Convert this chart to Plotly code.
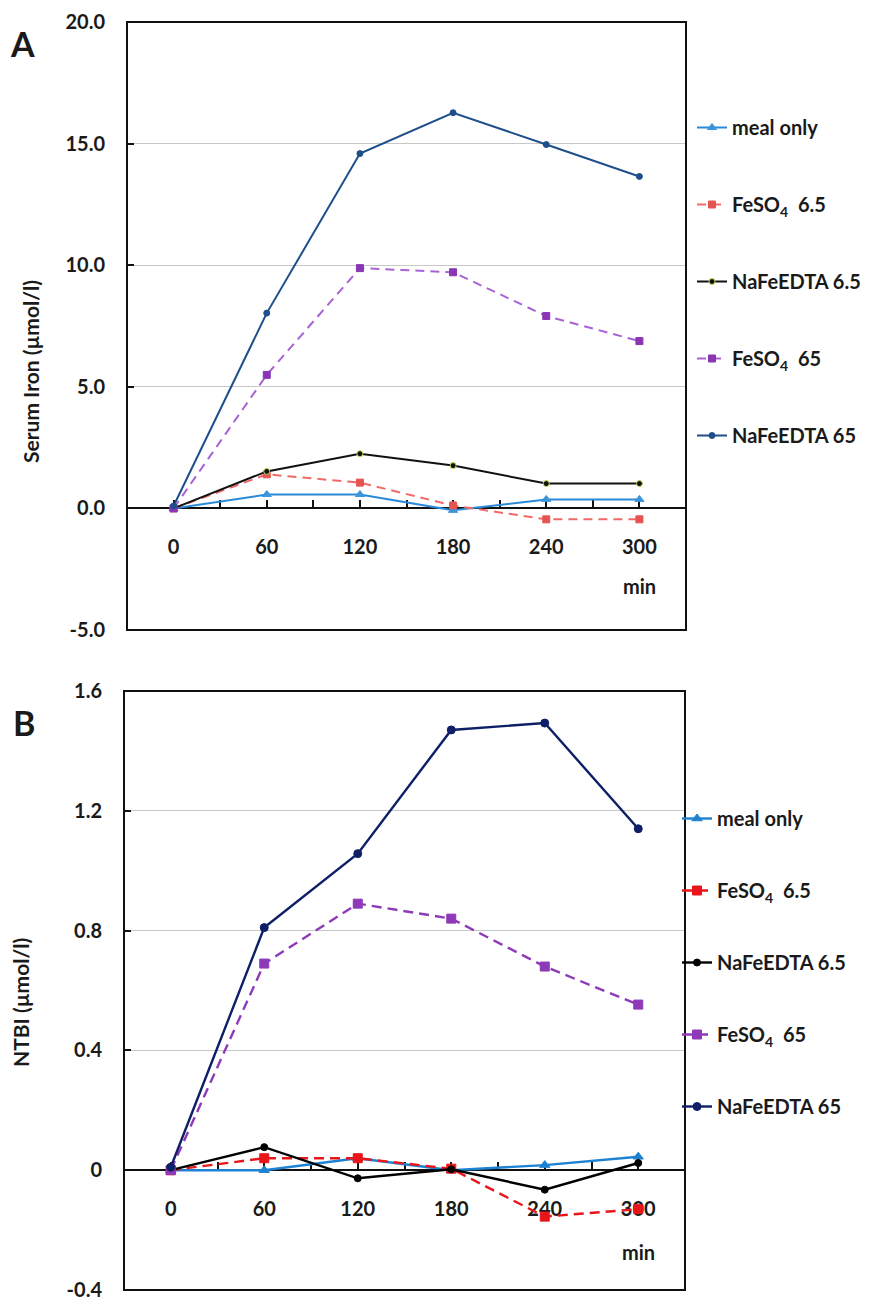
import plotly.graph_objects as go

# ---------------- data ----------------
minutes = [0, 60, 120, 180, 240, 300]

series_names = ["meal only", "FeSO<sub>4</sub>\u00a0 6.5", "NaFeEDTA 6.5",
                "FeSO<sub>4</sub>\u00a0 65", "NaFeEDTA 65"]

# Panel A: serum iron (µmol/l)
a_meal_only = [0.0, 0.57, 0.57, -0.08, 0.37, 0.37]
a_feso4_6_5 = [0.0, 1.40, 1.06, 0.12, -0.45, -0.45]
a_nafeedta_6_5 = [0.0, 1.52, 2.25, 1.76, 1.02, 1.02]
a_feso4_65 = [0.0, 5.49, 9.88, 9.71, 7.91, 6.88]
a_nafeedta_65 = [0.1, 8.03, 14.59, 16.27, 14.96, 13.65]

# Panel B: NTBI (µmol/l)
b_meal_only = [0.0, 0.0, 0.04, 0.0, 0.017, 0.045]
b_feso4_6_5 = [0.0, 0.04, 0.04, 0.005, -0.155, -0.13]
b_nafeedta_6_5 = [0.0, 0.077, -0.027, 0.003, -0.065, 0.024]
b_feso4_65 = [0.0, 0.69, 0.89, 0.84, 0.68, 0.553]
b_nafeedta_65 = [0.01, 0.81, 1.057, 1.47, 1.493, 1.14]

x_tick_vals = [0, 60, 120, 180, 240, 300]
x_tick_text = ["0", "60", "120", "180", "240", "300"]
x_minor_ticks = [30, 90, 150, 210, 270]

a_y_ticks = [-5, 0, 5, 10, 15, 20]
a_y_text = ["-5.0", "0.0", "5.0", "10.0", "15.0", "20.0"]
b_y_ticks = [-0.4, 0, 0.4, 0.8, 1.2, 1.6]
b_y_text = ["-0.4", "0", "0.4", "0.8", "1.2", "1.6"]

# ---------------- styling ----------------
W, H = 878, 1300
OFF = 8  # page body margin
FONT = "Lato"
TXT = "#1a1a1a"

def px_x(p):
    return (p - OFF) / W

def px_y(p):
    return 1 - (p - OFF) / H

domA_x = [px_x(127), px_x(686)]
domA_y = [px_y(630), px_y(22)]
domB_x = [px_x(124), px_x(685)]
domB_y = [px_y(1290), px_y(691)]

a_range = [-5, 20]
b_range = [-0.4, 1.6]
x_range = [-30, 330]

stylesA = [
    dict(color="#2b8ad8", dash="solid", symbol="triangle-up", size=8, mcolor="#3a95dc", mline="#3a95dc"),
    dict(color="#ef6a66", dash="9px,6px", symbol="square", size=7, mcolor="#e45450", mline="#e45450"),
    dict(color="#111111", dash="solid", symbol="circle", size=6, mcolor="#111111", mline="#c9dd5a"),
    dict(color="#a862d6", dash="9px,6px", symbol="square", size=7, mcolor="#8a36b4", mline="#8a36b4"),
    dict(color="#1f4f8a", dash="solid", symbol="circle", size=6, mcolor="#1f4f8a", mline="#1f4f8a"),
]
stylesB = [
    dict(color="#1e82d2", dash="solid", symbol="triangle-up", size=9, mcolor="#1e82d2", mline="#1e82d2"),
    dict(color="#e8161b", dash="10px,6px", symbol="square", size=9, mcolor="#e8161b", mline="#e8161b"),
    dict(color="#000000", dash="solid", symbol="circle", size=7, mcolor="#000000", mline="#000000"),
    dict(color="#8e3ab8", dash="10px,6px", symbol="square", size=9, mcolor="#8e3ab8", mline="#8e3ab8"),
    dict(color="#0d1f66", dash="solid", symbol="circle", size=8, mcolor="#0d1f66", mline="#0d1f66"),
]

fig = go.Figure()

dataA = [a_meal_only, a_feso4_6_5, a_nafeedta_6_5, a_feso4_65, a_nafeedta_65]
dataB = [b_meal_only, b_feso4_6_5, b_nafeedta_6_5, b_feso4_65, b_nafeedta_65]

for i, (name, ys, st) in enumerate(zip(series_names, dataA, stylesA)):
    fig.add_trace(go.Scatter(
        x=minutes, y=ys, name=name, mode="lines+markers",
        xaxis="x", yaxis="y", legend="legend", legendgroup=f"a{i}",
        line=dict(color=st["color"], width=2, dash=st["dash"]),
        marker=dict(symbol=st["symbol"], size=st["size"], color=st["mcolor"],
                    line=dict(color=st["mline"], width=1)),
        cliponaxis=False,
    ))

for i, (name, ys, st) in enumerate(zip(series_names, dataB, stylesB)):
    fig.add_trace(go.Scatter(
        x=minutes, y=ys, name=name, mode="lines+markers",
        xaxis="x2", yaxis="y2", legend="legend2", legendgroup=f"b{i}",
        line=dict(color=st["color"], width=2.4, dash=st["dash"]),
        marker=dict(symbol=st["symbol"], size=st["size"], color=st["mcolor"],
                    line=dict(color=st["mline"], width=1)),
        cliponaxis=False,
    ))

def zero_pos(dom, rng):
    return dom[0] + (0 - rng[0]) / (rng[1] - rng[0]) * (dom[1] - dom[0])

tickfont = dict(family=FONT, size=20, color=TXT, weight="bold")

xaxis_common = dict(
    range=x_range, tickmode="array", tickvals=x_tick_vals, ticktext=x_tick_text,
    showgrid=False, zeroline=False, showline=True, linecolor="#111111", linewidth=2,
    ticks="inside", ticklen=7, tickwidth=1.5, tickcolor="#111111",
    minor=dict(tickmode="array", tickvals=x_minor_ticks, ticks="inside", ticklen=7,
               tickwidth=1.5, tickcolor="#111111", showgrid=False),
    tickfont=tickfont, ticklabelstandoff=21, anchor="free", layer="below traces",
    fixedrange=True,
)
yaxis_common = dict(
    showgrid=True, gridcolor="#c8c8c8", gridwidth=1.2, zeroline=False,
    showline=False, ticks="inside", ticklen=7, tickwidth=1.5, tickcolor="#111111",
    tickfont=tickfont, ticklabelstandoff=21, tickmode="array",
)

legend_font = dict(family=FONT, size=20, color=TXT, weight="bold")

fig.update_layout(
    width=W, height=H, margin=dict(l=0, r=0, t=0, b=0, autoexpand=False),
    paper_bgcolor="white", plot_bgcolor="white",
    font=dict(family=FONT, color=TXT),
    xaxis=dict(domain=domA_x, position=zero_pos(domA_y, a_range), **xaxis_common),
    yaxis=dict(domain=domA_y, range=a_range, anchor="x", tickvals=a_y_ticks,
               ticktext=a_y_text, **yaxis_common),
    xaxis2=dict(domain=domB_x, position=zero_pos(domB_y, b_range), **xaxis_common),
    yaxis2=dict(domain=domB_y, range=b_range, anchor="x2", tickvals=b_y_ticks,
                ticktext=b_y_text, **yaxis_common),
    legend=dict(x=px_x(692), y=px_y(108), xanchor="left", yanchor="top",
                bgcolor="rgba(0,0,0,0)", tracegroupgap=48, font=legend_font),
    legend2=dict(x=px_x(677), y=px_y(799), xanchor="left", yanchor="top",
                 bgcolor="rgba(0,0,0,0)", tracegroupgap=43, font=legend_font),
    showlegend=True,
)

# frames around plot areas
for xr, yr in (("x domain", "y domain"), ("x2 domain", "y2 domain")):
    fig.add_shape(type="rect", xref=xr, yref=yr, x0=0, x1=1, y0=0, y1=1,
                  line=dict(color="#111111", width=2), layer="above")

ann_font = dict(family=FONT, size=20, color=TXT, weight="bold")
fig.add_annotation(text="min", x=300, y=0, xref="x", yref="y", yshift=-78,
                   showarrow=False, font=ann_font, xanchor="center", yanchor="middle")
fig.add_annotation(text="min", x=300, y=0, xref="x2", yref="y2", yshift=-82,
                   showarrow=False, font=ann_font, xanchor="center", yanchor="middle")

fig.add_annotation(text="Serum Iron (µmol/l)", x=px_x(30), y=px_y(372), xref="paper", yref="paper",
                   textangle=-90, showarrow=False, xanchor="center", yanchor="middle",
                   font=dict(family=FONT, size=21, color=TXT, weight="bold"))
fig.add_annotation(text="NTBI (µmol/l)", x=px_x(21), y=px_y(1003), xref="paper", yref="paper",
                   textangle=-90, showarrow=False, xanchor="center", yanchor="middle",
                   font=dict(family=FONT, size=21, color=TXT, weight="bold"))

fig.add_annotation(text="A", x=px_x(22), y=px_y(43), xref="paper", yref="paper",
                   showarrow=False, xanchor="center", yanchor="middle",
                   font=dict(family=FONT, size=34, color=TXT, weight="bold"))
fig.add_annotation(text="B", x=px_x(24), y=px_y(722), xref="paper", yref="paper",
                   showarrow=False, xanchor="center", yanchor="middle",
                   font=dict(family=FONT, size=34, color=TXT, weight="bold"))

fig.write_html("out.html")
